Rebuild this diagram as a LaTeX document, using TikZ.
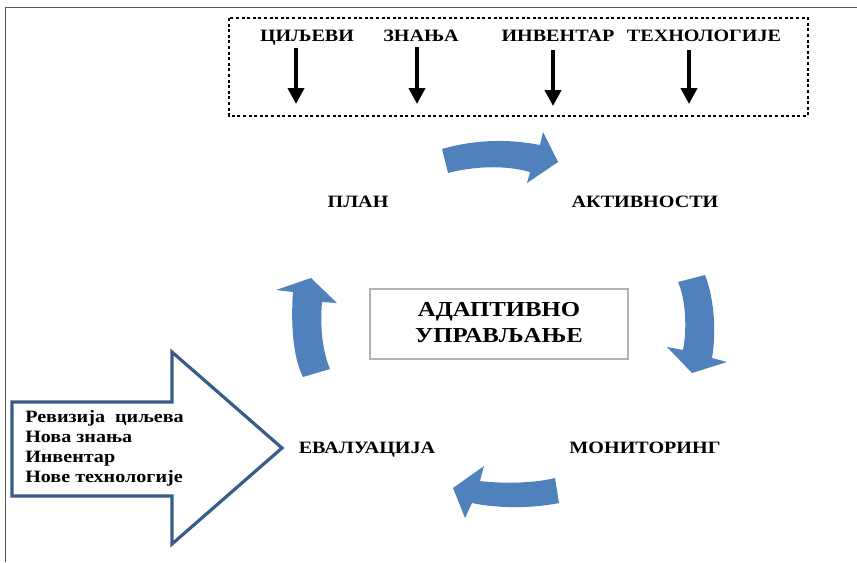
\documentclass[tikz,border=0pt]{standalone}
\usepackage{fontspec}
\usepackage{graphicx}
\setmainfont{Liberation Serif}
\usetikzlibrary{arrows.meta}
\definecolor{cycblue}{HTML}{4F81BD}
\definecolor{bigblue}{HTML}{385D8A}
\newcommand{\widetxt}[1]{\scalebox{1.16}[1]{#1}}
\tikzset{
  lbl/.style={font=\bfseries\fontsize{13}{15}\selectfont, inner sep=0pt, anchor=base},
  toplbl/.style={font=\bfseries\fontsize{13}{15}\selectfont, inner sep=0pt, anchor=base},
  cyc/.style={fill=cycblue, draw=none},
  downarrow/.style={line width=3.2pt, -{Triangle[width=12pt,length=12pt]}},
}
\begin{document}
\begin{tikzpicture}[x=0.75pt,y=-0.75pt]
\useasboundingbox (0,0) rectangle (857,562);
% frame
\draw[gray!70!black, line width=1.2pt] (5.5,562) -- (5.5,7.5) -- (857,7.5);
% dotted box
\draw[line width=2.2pt, dash pattern=on 2.2pt off 2pt] (229,18) rectangle (808,116);
\node[toplbl] (c1) at (307,41) {\widetxt{ЦИЉЕВИ}};
\node[toplbl] (c2) at (421,41) {\widetxt{ЗНАЊА}};
\node[toplbl] (c3) at (558,41) {\widetxt{ИНВЕНТАР}};
\node[toplbl] (c4) at (704,41) {\widetxt{ТЕХНОЛОГИЈЕ}};
\coordinate (e1) at (296,104);
\coordinate (e2) at (417,104);
\coordinate (e3) at (553,106);
\coordinate (e4) at (689,104);
\draw[downarrow] (296,48) -- (e1);
\draw[downarrow] (417,47) -- (e2);
\draw[downarrow] (553,50) -- (e3);
\draw[downarrow] (689,50) -- (e4);
% cycle labels
\node[lbl] (plan) at (358,207) {\widetxt{ПЛАН}};
\node[lbl] (akt) at (645,207) {\widetxt{АКТИВНОСТИ}};
\node[lbl] (eval) at (367,453) {\widetxt{ЕВАЛУАЦИЈА}};
\node[lbl] (mon) at (645,453) {\widetxt{МОНИТОРИНГ}};
% center box
\node[draw=gray!60, line width=0.8pt, minimum width=258*0.75pt, minimum height=70*0.75pt, inner sep=0pt] (center) at (499,324) {};
\node[font=\bfseries\fontsize{16}{19.5}\selectfont, inner sep=0pt] (ctext) at (center.center)
  {\widetxt{\begin{tabular}{@{}c@{}}АДАПТИВНО\\УПРАВЉАЊЕ\end{tabular}}};
% curved arrows
\fill[cyc] (442,149) .. controls (480,138) and (515,140) .. (540,145) -- (543,132) -- (558,162) -- (527,183) -- (530,172)
  .. controls (505,165) and (475,166) .. (448,173) -- cycle;
\fill[cyc] (705,275) .. controls (715,300) and (716,335) .. (712,358) -- (727,362) -- (692,373) -- (667,347) -- (683,350)
  .. controls (687,330) and (686,300) .. (678,282) -- cycle;
\fill[cyc] (559,503) .. controls (530,509) and (495,508) .. (472,503) -- (465,518) -- (453,488) -- (484,466) -- (480,481)
  .. controls (505,484) and (535,483) .. (555,478) -- cycle;
\fill[cyc] (303,377) .. controls (292,355) and (291,320) .. (293,292) -- (276,290) -- (311,278) -- (337,303) -- (322,302)
  .. controls (320,325) and (322,350) .. (330,369) -- cycle;
% big input arrow
\draw[bigblue, line width=2.4pt, line join=miter] (12,402) -- (172,402) -- (172,352) -- (282,448) -- (172,544) -- (172,496) -- (12,496) -- cycle;
\node[anchor=west, font=\bfseries\fontsize{13}{15}\selectfont, inner sep=0pt] (inp) at (25,448)
  {\widetxt{\begin{tabular}{@{}l@{}}Ревизија~ циљева\\Нова знања\\Инвентар\\Нове технологије\end{tabular}}};
\end{tikzpicture}
\end{document}
